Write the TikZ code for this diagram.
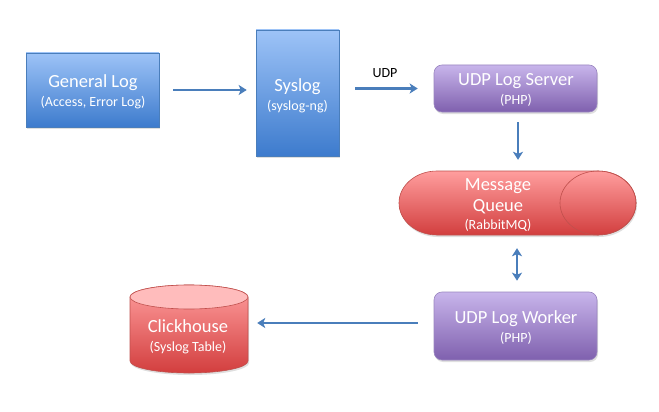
\documentclass[tikz,border=0pt]{standalone}
\usepackage{fontspec}
\setmainfont{Carlito}
\usetikzlibrary{arrows.meta,shadows}
\definecolor{bluetop}{HTML}{9DC3F7}
\definecolor{bluebot}{HTML}{3D7BCD}
\definecolor{blueline}{HTML}{4A7EBB}
\definecolor{purtop}{HTML}{C8B5EB}
\definecolor{purbot}{HTML}{7F60AE}
\definecolor{purline}{HTML}{9A86C0}
\definecolor{redtop}{HTML}{FF9E9E}
\definecolor{redbot}{HTML}{D23E3E}
\definecolor{redline}{HTML}{C0504D}
\definecolor{redcap}{HTML}{FFBCBC}
\definecolor{arrowcol}{HTML}{4A7EBB}
\tikzset{
  mainf/.style={font=\fontsize{18.5}{22}\selectfont},
  bluebox/.style={draw=blueline, line width=0.6pt, top color=bluetop, bottom color=bluebot,
    text=white, align=center, inner sep=0pt,
    drop shadow={shadow xshift=1pt, shadow yshift=-2pt, opacity=0.25}},
  purbox/.style={draw=purline, line width=0.6pt, top color=purtop, bottom color=purbot,
    rounded corners=8pt, text=white, align=center, inner sep=0pt,
    drop shadow={shadow xshift=1pt, shadow yshift=-2pt, opacity=0.25}},
  txt/.style={text=white, align=center, inner sep=0pt},
  conn/.style={draw=arrowcol, line width=2.2pt, -{Stealth[length=8pt,width=10pt,inset=2pt]}},
  dconn/.style={draw=arrowcol, line width=2.2pt, {Stealth[length=8pt,width=10pt,inset=2pt]}-{Stealth[length=8pt,width=10pt,inset=2pt]}},
  redshape/.style={draw=redline, line width=0.6pt, top color=redtop, bottom color=redbot,
    drop shadow={shadow xshift=1pt, shadow yshift=-2pt, opacity=0.25}},
}
\newcommand{\sub}[1]{{\fontsize{14}{16}\selectfont #1}}
\begin{document}
\begin{tikzpicture}[x=1pt,y=-1pt]
\useasboundingbox[fill=white] (0,0) rectangle (659,412);

% General Log
\node[bluebox, minimum width=133pt, minimum height=74pt] (gl) at (92.5,90) {};
\node[txt, mainf] (gltxt) at (93,92) {General Log\\[-3pt]\sub{(Access, Error Log)}};

% Syslog
\node[bluebox, minimum width=83pt, minimum height=126pt] (sys) at (297.5,93) {};
\node[txt, mainf] (systxt) at (297.5,96) {Syslog\\[-3pt]\sub{(syslog-ng)}};

% UDP Log Server
\node[purbox, minimum width=163pt, minimum height=47pt] (srv) at (515.5,88.5) {};
\node[txt, mainf] (srvtxt) at (516,90) {UDP Log Server\\[-3pt]\sub{(PHP)}};

% Message Queue (horizontal cylinder)
\path[redshape] (437,171) -- (598,171) arc(-90:90:38 and 32) -- (437,235) arc(90:270:38 and 32) -- cycle;
\draw[redline, line width=0.6pt] (598,203) ellipse (38 and 32);
\node[minimum width=237pt, minimum height=64pt, inner sep=0pt] (mq) at (517.5,203) {};
\node[txt, mainf] (mqtxt) at (498,205) {Message\\[-1pt]Queue\\[-4pt]\sub{(RabbitMQ)}};

% UDP Log Worker
\node[purbox, minimum width=163pt, minimum height=68pt] (wk) at (515.5,326) {};
\node[txt, mainf] (wktxt) at (516,328) {UDP Log Worker\\[-3pt]\sub{(PHP)}};

% Clickhouse (vertical cylinder)
\path[redshape] (130,297) -- (130,361) arc(180:0:59 and 12) -- (248,297) arc(0:-180:59 and 12) -- cycle;
\draw[redline, line width=0.6pt, fill=redcap] (189,297) ellipse (59 and 12);
\node[minimum width=118pt, minimum height=88pt, inner sep=0pt] (ch) at (189,329) {};
\node[txt, mainf] (chtxt) at (188,337) {Clickhouse\\[-3pt]\sub{(Syslog Table)}};

% UDP label
\node[font=\fontsize{14}{16}\selectfont, text=black, inner sep=0pt] (udp) at (385,73) {UDP};

% connectors
\draw[conn, shorten <=14pt, shorten >=9pt] (gl.east) -- (gl.east -| sys.west);
\draw[conn, shorten <=16pt, shorten >=16pt] (sys.east |- srv.west) -- (srv.west);
\draw[conn, shorten <=10pt, shorten >=11pt] ([xshift=2.5pt]srv.south) -- ([xshift=2.5pt]srv.south |- mq.north);
\draw[dconn, shorten <=13pt, shorten >=11pt] ([xshift=1.5pt]mq.south -| wk.north) -- ([xshift=1.5pt]wk.north);
\draw[conn, shorten <=16pt, shorten >=9pt] ([yshift=3pt]wk.west) -- ([yshift=3pt]wk.west -| ch.east);
\end{tikzpicture}
\end{document}
